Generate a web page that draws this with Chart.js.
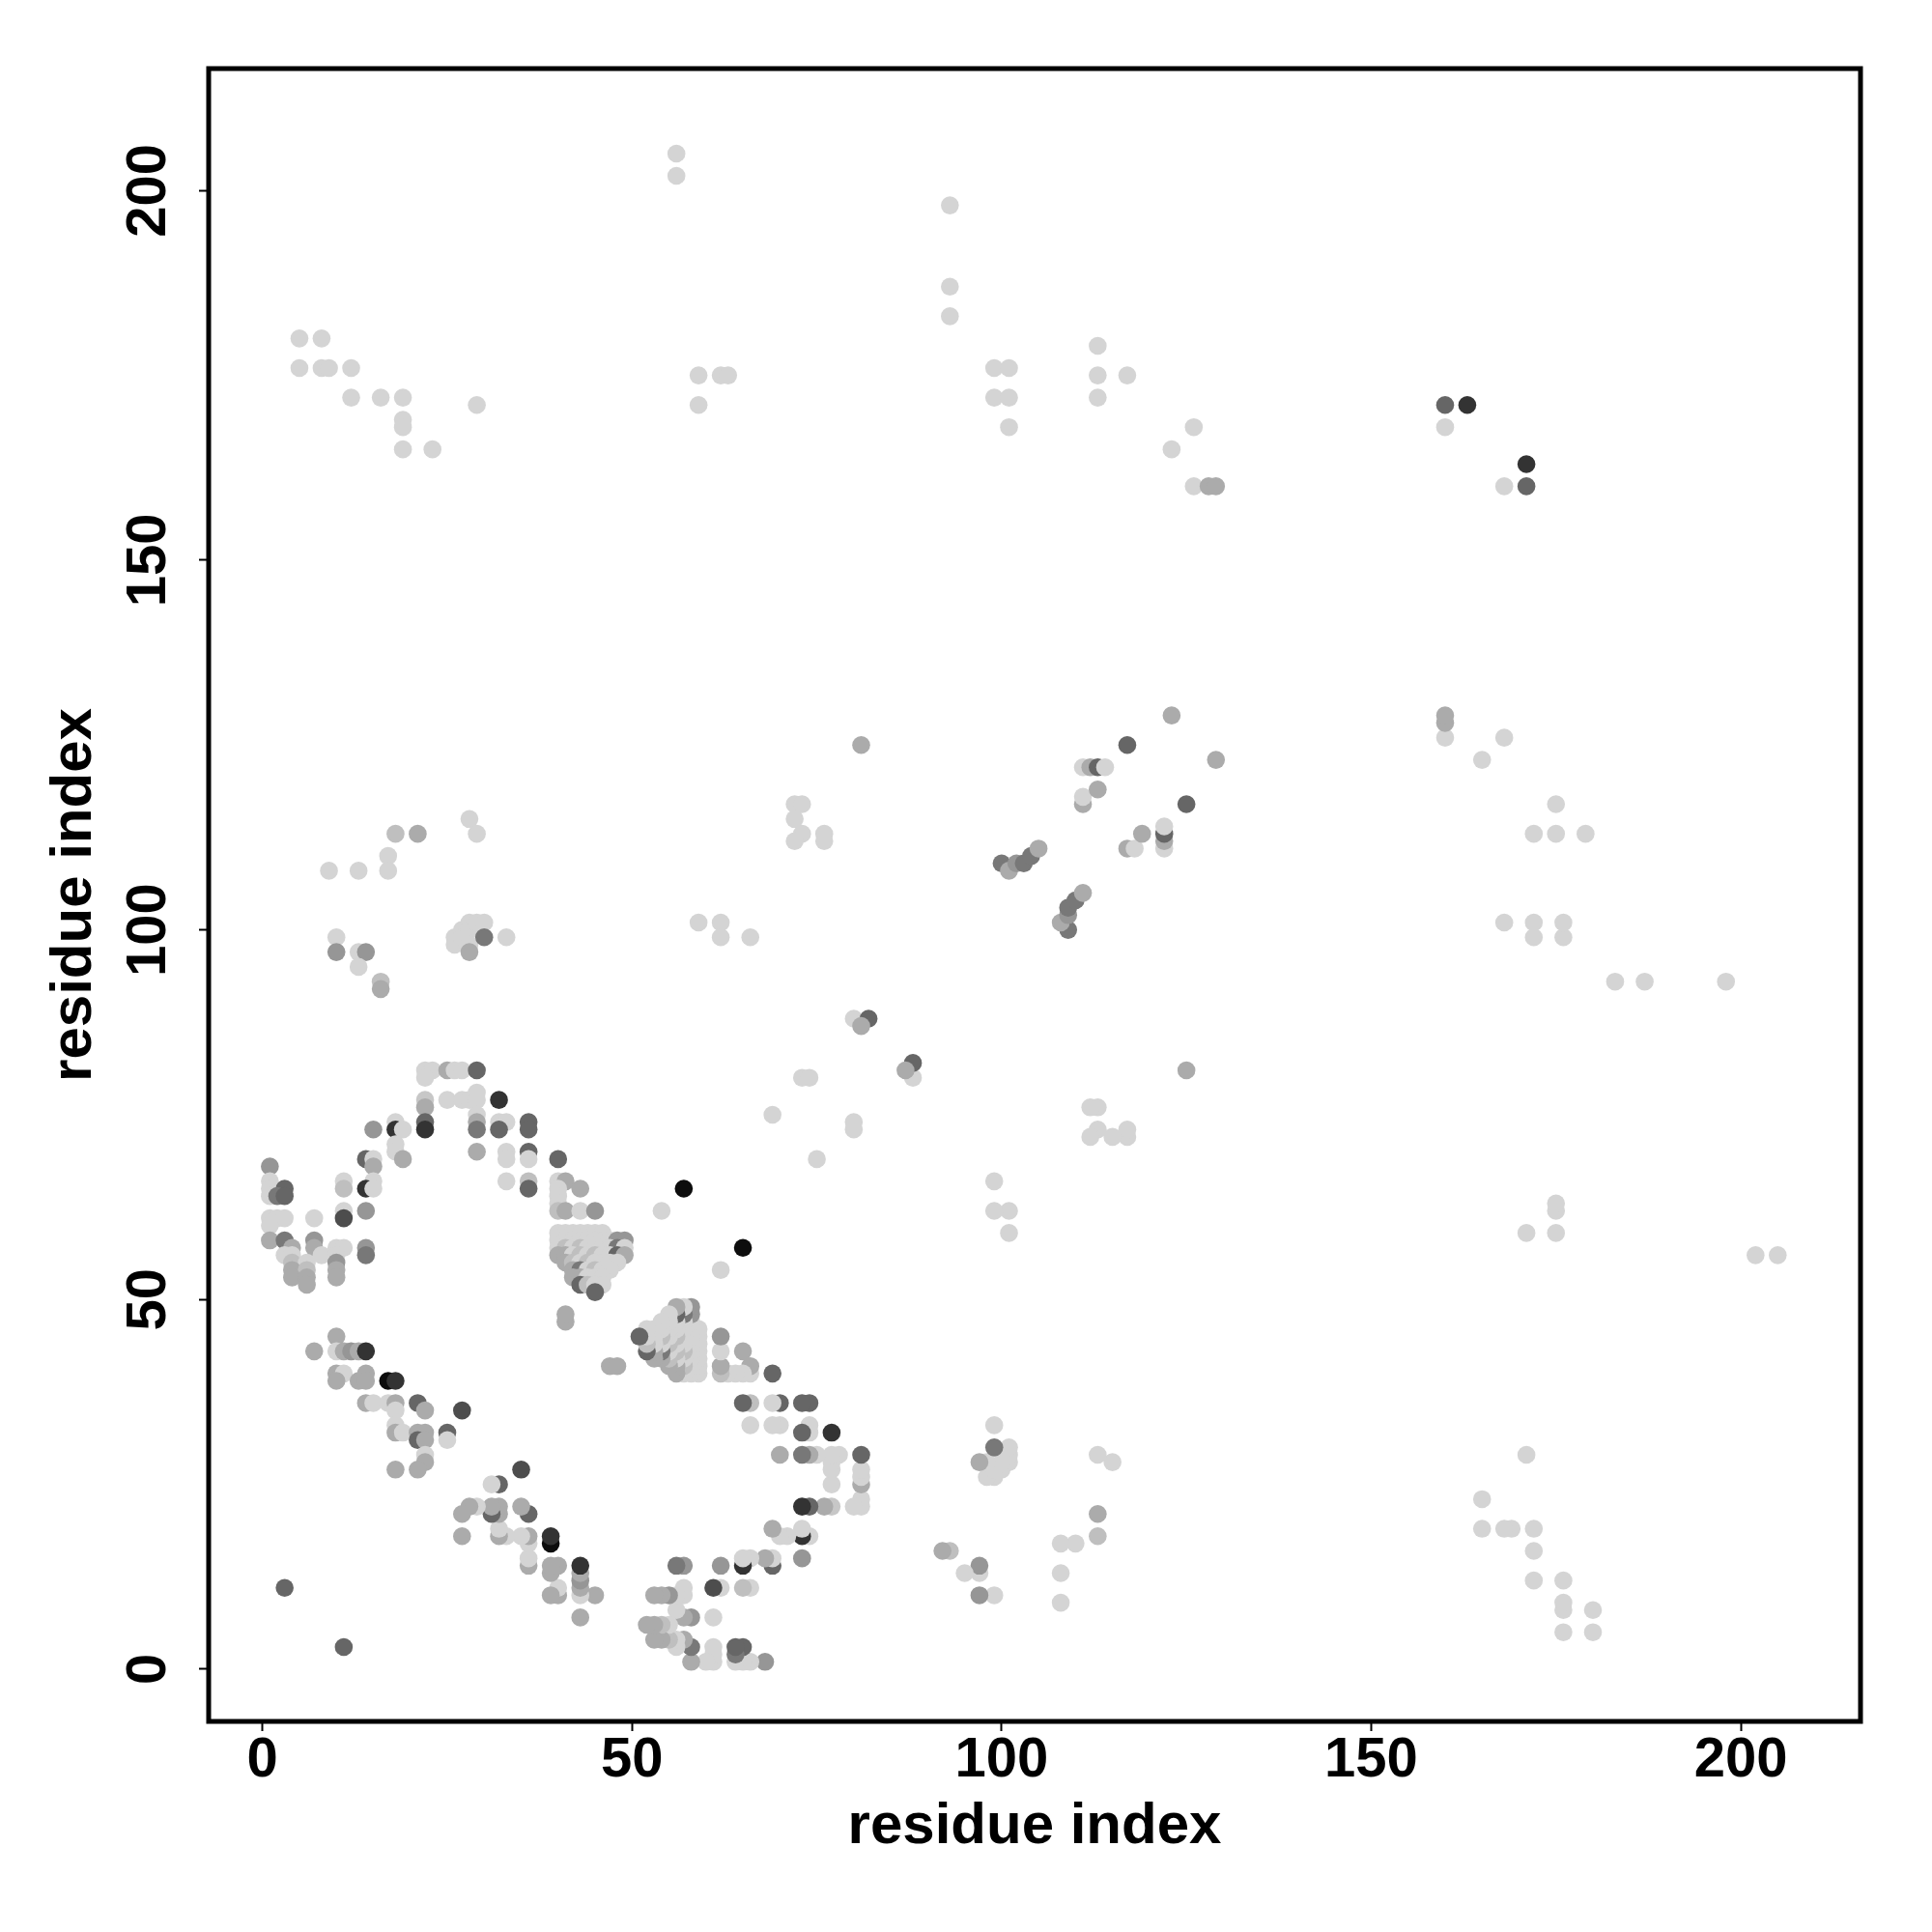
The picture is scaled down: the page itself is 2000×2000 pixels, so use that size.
<!DOCTYPE html>
<html>
<head>
<meta charset="utf-8">
<script src="https://cdn.jsdelivr.net/npm/chart.js@4.4.0/dist/chart.umd.min.js"></script>
<style>
  body { margin: 0; background: #fff; }
</style>
</head>
<body>
<canvas id="myChart" width="2000" height="2000"></canvas>
<script>
// contact strength (0 = white, 1 = black)
var L = 0.17, L1 = 0.22, M1 = 0.25, M = 0.33, M2 = 0.41, D1 = 0.53, D = 0.6, D2 = 0.7, K = 0.8, B = 0.95;

// contacts [i, j, strength] with i < j; the map shows each pair both ways
var bandContacts = [
  [3,11,D],
  [10,45,M],[7,43,M],[10,43,L],[11,43,M],[12,43,M2],[13,43,M],[14,43,K],
  [10,40,M],[11,40,L],[10,39,M],[13,39,M],[14,40,M],[14,39,M],[17,39,B],[18,39,K],
  [14,36,M],[15,36,L],[17,36,L],[18,36,M],[18,35,L],[21,36,D],[22,35,M],[27,35,D2],
  [18,33,L],[18,32,M],[19,32,L],[21,32,M],[22,32,M],[21,31,D],[22,31,M],[25,32,D],[25,31,L],
  [22,29,L],[22,28,M],[18,27,M],[21,27,M]
];

var arcContacts = [
  [22,81,L],[23,81,L],[25,81,M],[26,81,L],[27,81,L],[29,81,D],
  [22,80,L],[29,78,L],
  [22,77,L1],[25,77,L],[27,77,L],[28,77,L],[29,77,L],[32,77,K],
  [22,76,M],[29,75,L],
  [22,74,D],[18,74,L],[29,74,M],[32,74,L],[33,74,L],[36,74,D],
  [22,73,K],[15,73,M2],[18,73,K],[19,73,L],[29,73,D1],[32,73,D],[36,73,D],
  [18,71,L],[18,70,L],[29,70,M],[33,70,L],[36,70,D],
  [14,69,D],[15,69,L],[19,69,M],[33,69,L],[36,69,L],[40,69,D],
  [1,68,M2],[15,68,M],
  [1,66,L],[11,66,L],[15,66,L],[33,66,L],[36,66,M1],[40,66,L],[41,66,M],
  [1,65,L],[3,65,D],[11,65,M1],[14,65,K],[15,65,L],[36,65,D],[40,65,L],[43,65,M],
  [1,64,L],[2,64,D1],[3,64,D],[40,64,L],[40,63,L],
  [11,62,L],[14,62,M2],[40,62,M1],[41,62,M],[43,62,L],[45,62,M2],[54,62,L],
  [1,61,L],[2,61,L],[3,61,L],[7,61,L],[11,61,D2],
  [1,60,L],
  [1,58,M],[3,58,D1],[7,58,M2],
  [4,57,M],[7,57,M],[10,57,L],[11,57,L],[14,57,M2],
  [3,56,L],[4,56,L],[8,56,L],[10,56,L],[14,56,D1],
  [4,55,M1],[6,55,L],[10,55,M2],
  [4,54,M],[6,54,M1],[10,54,M],
  [4,53,M],[6,53,M],[10,53,M],
  [6,52,M]
];

var clusterContacts = [
  [40,59,L],[41,59,L],[42,59,L],[43,59,L],[44,59,L],[45,59,L],[46,59,L],
  [40,58,L],[41,58,L],[42,58,L],[43,58,L],[44,58,L],[45,58,L],[46,58,L],[47,58,L],[48,58,M2],[49,58,M2],
  [40,57,L],[41,57,M1],[42,57,L],[43,57,M1],[44,57,L],[45,57,L],[46,57,L],[47,57,L],[48,57,D1],[49,57,L],
  [40,56,M],[41,56,M],[42,56,L],[43,56,M1],[44,56,L],[45,56,M1],[46,56,L],[47,56,L],[48,56,D],[49,56,M],
  [41,55,M],[42,55,M1],[43,55,L],[44,55,M1],[45,55,L],[46,55,L],[47,55,L],[48,55,L],
  [42,54,M],[43,54,D1],[44,54,L],[45,54,M1],[46,54,L],[47,54,L],
  [42,53,M],[43,53,M],[44,53,L],[45,53,L],[46,53,L],
  [43,52,D],[44,52,M1],[45,52,L],[46,52,L],
  [45,51,D],
  [41,47,M],[41,48,M],
  [57,65,B]
];

var farContacts = [
  [59,101,L],[62,101,L],[62,99,L],[66,99,L],
  [69,75,L],[73,80,L],[74,80,L],
  [80,88,L],[82,88,D],[81,87,M],
  [72,117,L],[73,117,L],[72,115,L],[73,113,L],[72,112,L],[76,113,L],[76,112,L],
  [81,125,M],
  [100,109,D1],[101,108,M],[102,109,M2],[103,109,D1],[104,110,D1],[105,111,M],
  [111,117,M],[111,118,L],[113,119,M],[111,122,L],[112,122,M],[113,122,D],[114,122,L],
  [117,125,D],[123,129,M],
  [9,108,L],[13,108,L],[17,110,L],[17,108,L],[18,113,M1],[21,113,M],[28,115,L],[29,113,L],
  [10,99,L],[10,97,M2],[13,97,L],[14,97,M2],[13,95,L],[16,93,M1],[16,92,M],
  [26,99,L],[26,98,L],[27,100,L],[27,99,L],[28,101,L],[28,100,L],[29,101,L],[28,98,L],
  [28,97,M],[30,101,L],[30,99,D1],[33,99,L],
  [5,180,L],[8,180,L],[5,176,L],[8,176,L],[9,176,L],[12,176,L],[12,172,L],[16,172,L],
  [19,172,L],[19,169,L],[19,168,L],[19,165,L],[23,165,L],[29,171,L],
  [56,205,L],[56,202,L],[59,171,L],[59,175,L],[62,175,L],[63,175,L],
  [93,198,L],[93,187,L],[93,183,L],
  [99,176,L],[101,176,L],[99,172,L],[101,172,L],[101,168,L],
  [113,179,L],[113,175,L],[117,175,L],[113,172,L],
  [123,165,L],[126,168,L],[126,160,L],[128,160,M],[129,160,M],
  [160,168,L],[160,171,D],[163,171,K]
];

var xTicks = [0, 50, 100, 150, 200];
var yTicks = [0, 50, 100, 150, 200];
var axisTitle = 'residue index';

var allContacts = bandContacts.concat(arcContacts, clusterContacts, farContacts);
var points = [];
var colors = [];
for (var k = 0; k < allContacts.length; k++) {
  var c = allContacts[k];
  var g = Math.round(255 * (1 - c[2]));
  var col = 'rgb(' + g + ',' + g + ',' + g + ')';
  points.push({x: c[0], y: c[1]});
  colors.push(col);
  points.push({x: c[1], y: c[0]});
  colors.push(col);
}

var fontFamily = '"Liberation Sans", Arial, Helvetica, sans-serif';

// frame around the plot and rotated y tick labels
var framePlugin = {
  id: 'frame',
  afterDraw: function(chart) {
    var ctx = chart.ctx;
    var a = chart.chartArea;
    ctx.save();
    ctx.strokeStyle = '#000';
    ctx.lineWidth = 5;
    ctx.strokeRect(a.left, a.top, a.right - a.left, a.bottom - a.top);

    var ys = chart.scales.y;
    ctx.fillStyle = '#000';
    ctx.font = 'bold 58px ' + fontFamily;
    ctx.textAlign = 'center';
    ctx.textBaseline = 'alphabetic';
    for (var i = 0; i < yTicks.length; i++) {
      var py = ys.getPixelForValue(yTicks[i]);
      ctx.save();
      ctx.translate(171, py);
      ctx.rotate(-Math.PI / 2);
      ctx.fillText(String(yTicks[i]), 0, 0);
      ctx.restore();
    }
    ctx.restore();
  }
};

var ctx = document.getElementById('myChart').getContext('2d');
var chart = new Chart(ctx, {
  type: 'scatter',
  data: {
    datasets: [{
      data: points,
      pointBackgroundColor: colors,
      pointBorderWidth: 0,
      pointRadius: 9.3,
      pointHoverRadius: 9.3,
      showLine: false
    }]
  },
  options: {
    responsive: false,
    animation: false,
    devicePixelRatio: 1,
    layout: { padding: { top: 71, right: 74, left: 0, bottom: 0 } },
    plugins: {
      legend: { display: false },
      tooltip: { enabled: false }
    },
    scales: {
      x: {
        type: 'linear',
        min: -7.28,
        max: 216.2,
        afterBuildTicks: function(scale) {
          scale.ticks = xTicks.map(function(v) { return {value: v}; });
        },
        afterFit: function(scale) { scale.height = 218; },
        border: { display: false },
        grid: { drawOnChartArea: false, drawTicks: true, tickLength: 10, tickWidth: 2, tickColor: '#000' },
        ticks: {
          color: '#000',
          padding: 2,
          maxRotation: 0,
          font: { family: fontFamily, size: 58, weight: 'bold', lineHeight: 1 }
        },
        title: {
          display: true,
          text: axisTitle,
          color: '#000',
          padding: { top: 0, bottom: 73 },
          font: { family: fontFamily, size: 60, weight: 'bold' }
        }
      },
      y: {
        type: 'linear',
        min: -7.06,
        max: 216.5,
        afterBuildTicks: function(scale) {
          scale.ticks = yTicks.map(function(v) { return {value: v}; });
        },
        afterFit: function(scale) { scale.width = 216; },
        border: { display: false },
        grid: { drawOnChartArea: false, drawTicks: true, tickLength: 10, tickWidth: 2, tickColor: '#000' },
        ticks: { display: false },
        title: {
          display: true,
          text: axisTitle,
          color: '#000',
          padding: { top: 41, bottom: 0 },
          font: { family: fontFamily, size: 60, weight: 'bold' }
        }
      }
    }
  },
  plugins: [framePlugin]
});
</script>
</body>
</html>
